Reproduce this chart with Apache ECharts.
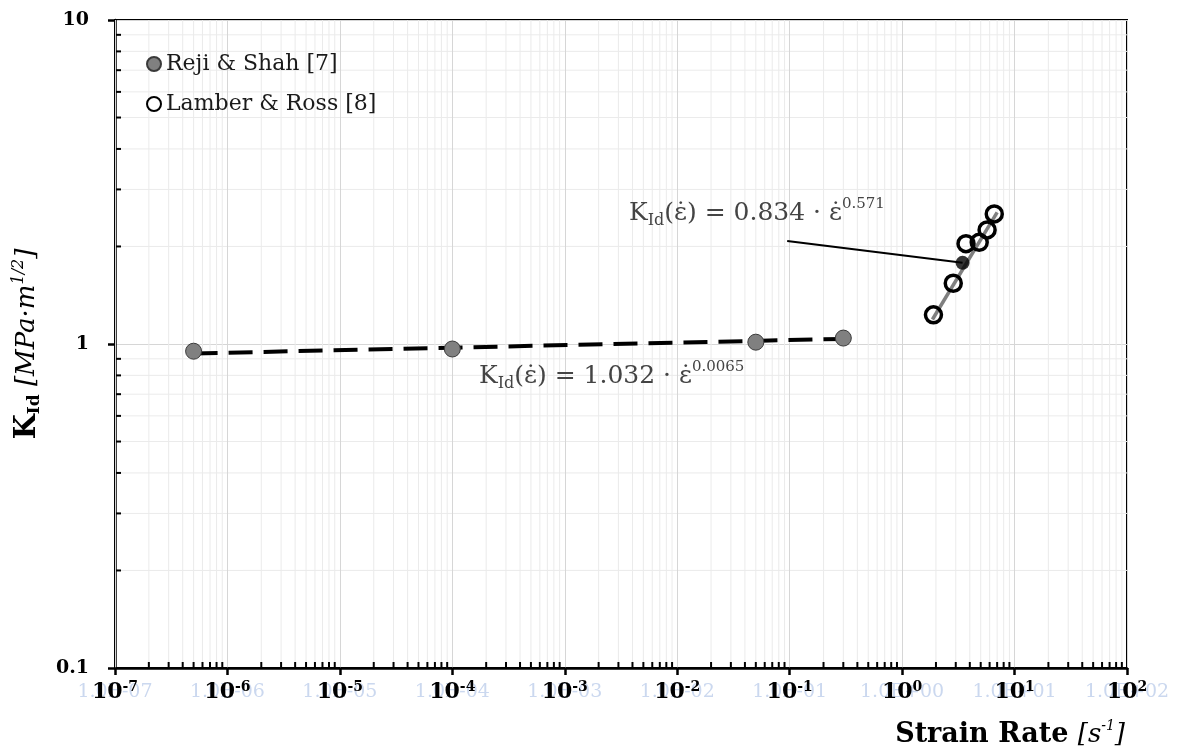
<!DOCTYPE html>
<html>
<head>
<meta charset="utf-8">
<script src="https://cdn.jsdelivr.net/npm/echarts@6/dist/echarts.min.js"></script>
<style>
  html, body { margin: 0; padding: 0; background: #fff; }
  #chart { width: 1181px; height: 756px; }
</style>
</head>
<body>
<div id="chart"></div>
<script>
// Reji & Shah [7]
const rejiX = [5e-7, 1e-4, 0.05, 0.3]
const rejiY = [0.95, 0.965, 1.013, 1.043]
// Lamber & Ross [8]
const lamberX = [1.9, 2.85, 3.7, 4.85, 5.7, 6.6]
const lamberY = [1.23, 1.54, 2.04, 2.06, 2.25, 2.52]
// fitted lines (end points)
const fitRejiX = [5e-7, 0.3]
const fitRejiY = [0.935, 1.037]
const fitLamberX = [1.86, 7.0]
const fitLamberY = [1.19, 2.55]
// leader line from the upper equation to the marked point
const leaderX = [0.095, 3.45]
const leaderY = [2.08, 1.78]
// axis tick decades
const xDecades = [-7, -6, -5, -4, -3, -2, -1, 0, 1]
const yDecades = [-1, 0]
const minorSteps = [2, 3, 4, 5, 6, 7, 8, 9]

const serif = 'DejaVu Serif'

let xMinor = []
xDecades.forEach(function (d) {
  minorSteps.forEach(function (m) { xMinor.push([m * Math.pow(10, d), 1]) })
})
let yMinor = []
yDecades.forEach(function (d) {
  minorSteps.forEach(function (m) { yMinor.push([1e-3, m * Math.pow(10, d)]) })
})

const myChart = echarts.init(document.getElementById('chart'))

function minorRender (isX) {
  return function (params, api) {
    const cs = params.coordSys
    const p = api.coord([api.value(0), api.value(1)])
    let grid, tick
    if (isX) {
      grid = { x1: p[0], y1: cs.y, x2: p[0], y2: cs.y + cs.height }
      tick = { x1: p[0], y1: cs.y + cs.height, x2: p[0], y2: cs.y + cs.height - 6 }
    } else {
      grid = { x1: cs.x, y1: p[1], x2: cs.x + cs.width, y2: p[1] }
      tick = { x1: cs.x, y1: p[1], x2: cs.x + 6, y2: p[1] }
    }
    return {
      type: 'group',
      children: [
        { type: 'line', shape: grid, style: { stroke: '#ebebeb', lineWidth: 1 } },
        { type: 'line', shape: tick, style: { stroke: '#000', lineWidth: 2 }, z2: 10 }
      ]
    }
  }
}

const eqRich = {
  k: { fontFamily: serif, fontSize: 25, fill: '#444', lineHeight: 32 },
  ks: { fontFamily: serif, fontSize: 16, fill: '#444', verticalAlign: 'bottom', lineHeight: 15 },
  t: { fontFamily: serif, fontSize: 25, fill: '#444', lineHeight: 32 },
  s: { fontFamily: serif, fontSize: 15, fill: '#444', verticalAlign: 'top', lineHeight: 14 }
}

const option = {
  animation: false,
  backgroundColor: '#fff',
  grid: {
    left: 115,
    right: 54,
    top: 20,
    bottom: 88,
    show: true,
    borderColor: '#000',
    borderWidth: 2
  },
  legend: {
    data: ['Reji & Shah [7]', 'Lamber & Ross [8]'],
    orient: 'vertical',
    left: 141,
    top: 48,
    itemWidth: 14,
    itemHeight: 14,
    itemGap: 18,
    textStyle: { fontFamily: serif, fontSize: 22, color: '#1a1a1a' }
  },
  xAxis: [
    {
      type: 'log',
      logBase: 10,
      min: 1e-7,
      max: 100,
      splitNumber: 9,
      z: 2,
      axisLine: { lineStyle: { color: '#000', width: 2.5 } },
      axisTick: { show: true, inside: false, length: 7, lineStyle: { color: '#000', width: 2.5 } },
      splitLine: { show: true, lineStyle: { color: '#d6d6d6', width: 1 } },
      axisLabel: {
        margin: 12,
        formatter: function (v) {
          const e = Math.round(Math.log10(v))
          return '{b|10}{s|' + e + '}'
        },
        rich: {
          b: { fontFamily: serif, fontSize: 22, fontWeight: 'bold', color: '#000', lineHeight: 24 },
          s: { fontFamily: serif, fontSize: 14, fontWeight: 'bold', color: '#000', verticalAlign: 'top', lineHeight: 14 }
        }
      }
    },
    {
      // faint duplicate labels seen behind the bold ones
      type: 'log',
      logBase: 10,
      min: 1e-7,
      max: 100,
      splitNumber: 9,
      position: 'bottom',
      z: 1,
      axisLine: { show: false },
      axisTick: { show: false },
      splitLine: { show: false },
      axisLabel: {
        margin: 15,
        fontFamily: serif,
        fontSize: 19,
        color: '#cbd8ef',
        formatter: function (v) {
          const e = Math.round(Math.log10(v))
          const a = Math.abs(e)
          return '1.0E' + (e < 0 ? '-' : '+') + (a < 10 ? '0' : '') + a
        }
      }
    }
  ],
  yAxis: {
    type: 'log',
    logBase: 10,
    min: 0.1,
    max: 10,
    splitNumber: 2,
    axisLine: { lineStyle: { color: '#000', width: 2.5 } },
    axisTick: { show: true, inside: false, length: 7, lineStyle: { color: '#000', width: 2.5 } },
    splitLine: { show: true, lineStyle: { color: '#d6d6d6', width: 1 } },
    axisLabel: {
      margin: 26,
      fontFamily: serif,
      fontSize: 19,
      fontWeight: 'bold',
      color: '#000',
      formatter: function (v) {
        return String(Number(v.toPrecision(1)))
      }
    },
    name: '{k|K}{ks|Id}{u| [MPa·m}{us|1/2}{u|]}',
    nameLocation: 'middle',
    nameRotate: 90,
    nameGap: 72,
    nameTextStyle: {
      rich: {
        k: { fontFamily: serif, fontSize: 29, fontWeight: 'bold', color: '#000', lineHeight: 32 },
        ks: { fontFamily: serif, fontSize: 17, fontWeight: 'bold', color: '#000', verticalAlign: 'bottom', lineHeight: 17 },
        u: { fontFamily: serif, fontSize: 26, fontStyle: 'italic', color: '#000', lineHeight: 32 },
        us: { fontFamily: serif, fontSize: 16, fontStyle: 'italic', color: '#000', verticalAlign: 'top', lineHeight: 16 }
      }
    }
  },
  graphic: [
    {
      type: 'text',
      right: 56,
      top: 719,
      style: {
        text: '{t|Strain Rate }{u|[s}{us|-1}{u|]}',
        rich: {
          t: { fontFamily: serif, fontSize: 27, fontWeight: 'bold', fill: '#000', lineHeight: 32 },
          u: { fontFamily: serif, fontSize: 26, fontStyle: 'italic', fill: '#000', lineHeight: 32 },
          us: { fontFamily: serif, fontSize: 14, fontStyle: 'italic', fill: '#000', verticalAlign: 'top', lineHeight: 14 }
        }
      }
    },
    {
      type: 'text',
      left: 629,
      top: 197,
      z: 100,
      style: { text: '{k|K}{ks|Id}{t|(ε̇) = 0.834 · ε̇}{s|0.571}', rich: eqRich }
    },
    {
      type: 'text',
      left: 479,
      top: 360,
      z: 100,
      style: { text: '{k|K}{ks|Id}{t|(ε̇) = 1.032 · ε̇}{s|0.0065}', rich: eqRich }
    }
  ],
  series: [
    {
      type: 'custom',
      name: 'xMinor',
      silent: true,
      z: 0,
      renderItem: minorRender(true),
      data: xMinor
    },
    {
      type: 'custom',
      name: 'yMinor',
      silent: true,
      z: 0,
      renderItem: minorRender(false),
      data: yMinor
    },
    {
      type: 'line',
      name: 'fit1',
      showSymbol: false,
      z: 3,
      lineStyle: { color: '#000', width: 4, type: [24, 11] },
      data: fitRejiX.map(function (x, i) { return [x, fitRejiY[i]] })
    },
    {
      type: 'line',
      name: 'fit2',
      showSymbol: false,
      z: 3,
      lineStyle: { color: '#7f7f7f', width: 3.5 },
      data: fitLamberX.map(function (x, i) { return [x, fitLamberY[i]] })
    },
    {
      type: 'line',
      name: 'leader',
      showSymbol: false,
      z: 3,
      lineStyle: { color: '#000', width: 2 },
      data: leaderX.map(function (x, i) { return [x, leaderY[i]] })
    },
    {
      type: 'scatter',
      name: 'Reji & Shah [7]',
      symbol: 'circle',
      symbolSize: 16,
      z: 5,
      itemStyle: { color: '#808080', borderColor: '#3a3a3a', borderWidth: 1, opacity: 1 },
      data: rejiX.map(function (x, i) { return [x, rejiY[i]] })
    },
    {
      type: 'scatter',
      name: 'Lamber & Ross [8]',
      symbol: 'circle',
      symbolSize: 16,
      z: 5,
      itemStyle: { color: 'rgba(255,255,255,0)', borderColor: '#000', borderWidth: 3.5, opacity: 1 },
      data: lamberX.map(function (x, i) { return [x, lamberY[i]] })
    },
    {
      type: 'scatter',
      name: 'point',
      symbol: 'circle',
      symbolSize: 14,
      z: 6,
      itemStyle: { color: '#000' },
      data: [[leaderX[1], leaderY[1]]]
    }
  ]
}
myChart.setOption(option)
</script>
</body>
</html>
